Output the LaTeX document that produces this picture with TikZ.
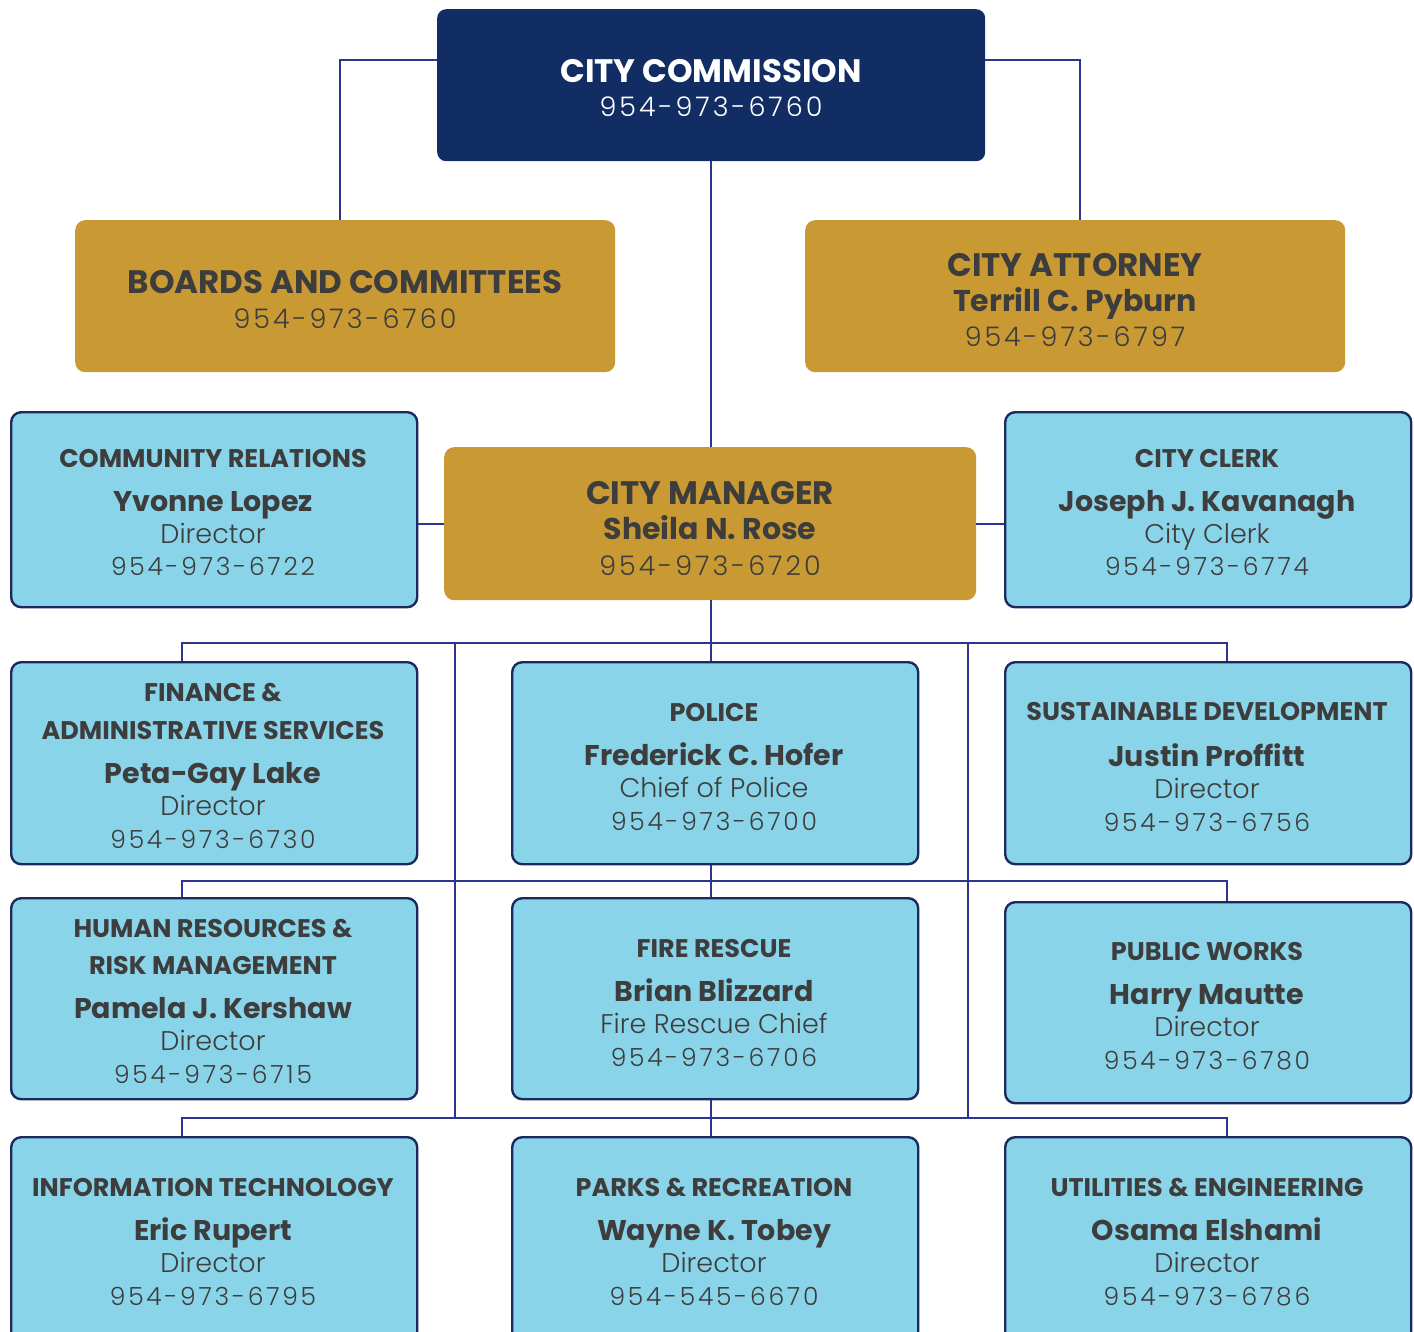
\documentclass[tikz,border=0pt]{standalone}
\usepackage{fontspec}
\setmainfont{Poppins}
\IfFontExistsTF{Poppins Light}{%
  \newfontfamily\phonefont{Poppins Light}[LetterSpace=11]%
  \newfontfamily\rolefont{Poppins Light}%
}{%
  \newfontfamily\phonefont{Poppins}[LetterSpace=11]%
  \newfontfamily\rolefont{Poppins}%
}
\usetikzlibrary{calc}
\definecolor{navy}{HTML}{122D63}
\definecolor{gold}{HTML}{C99A33}
\definecolor{lblue}{HTML}{8AD4E9}
\definecolor{bord}{HTML}{1B2A5E}
\definecolor{conn}{HTML}{2E3590}
\definecolor{tgray}{HTML}{3D3D3D}
\tikzset{
  bluebox/.style={draw=bord, line width=2.4pt, fill=lblue, rounded corners=10pt, anchor=north west, inner sep=0pt},
  goldbox/.style={fill=gold, rounded corners=10pt, anchor=north west, inner sep=0pt},
  navybox/.style={fill=navy, rounded corners=9pt, anchor=north west, inner sep=0pt},
  line/.style={draw=conn, line width=2.2pt},
  ttl/.style={anchor=base, inner sep=0pt, text=tgray, font=\bfseries\fontsize{25.5}{27}\selectfont},
  nm/.style={anchor=base, inner sep=0pt, text=tgray, font=\bfseries\fontsize{28.5}{30}\selectfont},
  role/.style={anchor=base, inner sep=0pt, text=tgray, font=\rolefont\fontsize{27}{29}\selectfont},
  ph/.style={anchor=base, inner sep=0pt, text=tgray, font=\phonefont\fontsize{25}{27}\selectfont},
  bigttl/.style={anchor=base, inner sep=0pt, text=tgray, font=\bfseries\fontsize{32.5}{34}\selectfont},
  bignm/.style={anchor=base, inner sep=0pt, text=tgray, font=\bfseries\fontsize{30}{32}\selectfont},
  bigph/.style={anchor=base, inner sep=0pt, text=tgray, font=\phonefont\fontsize{27}{29}\selectfont},
}
\begin{document}
\begin{tikzpicture}[x=1pt,y=-1pt]
\useasboundingbox (0,0) rectangle (1414,1332);
\clip (0,0) rectangle (1414,1332);
\coordinate (bL1) at (182,643); \coordinate (bR1) at (1227,643);
\coordinate (bL2) at (182,881); \coordinate (bR2) at (1227,881);
\coordinate (bL3) at (182,1118); \coordinate (bR3) at (1227,1118);
\coordinate (vA1) at (455,643); \coordinate (vA2) at (455,1118);
\coordinate (vB1) at (968,643); \coordinate (vB2) at (968,1118);
% boxes
\node[navybox, minimum width=548, minimum height=152] (comm) at (437,9) {};
\node[goldbox, minimum width=540, minimum height=152] (boards) at (75,220) {};
\node[goldbox, minimum width=540, minimum height=152] (att) at (805,220) {};
\node[goldbox, minimum width=532, minimum height=153] (mgr) at (444,447) {};
\node[bluebox, minimum width=406, minimum height=195] (cr) at (10,411) {};
\node[bluebox, minimum width=406, minimum height=195] (clerk) at (1004,411) {};
\node[bluebox, minimum width=406, minimum height=202] (fin) at (10,661) {};
\node[bluebox, minimum width=406, minimum height=202] (pol) at (511,661) {};
\node[bluebox, minimum width=406, minimum height=202] (sus) at (1004,661) {};
\node[bluebox, minimum width=406, minimum height=201] (hr) at (10,897) {};
\node[bluebox, minimum width=406, minimum height=201] (fire) at (511,897) {};
\node[bluebox, minimum width=406, minimum height=201] (pw) at (1004,901) {};
\node[bluebox, minimum width=406, minimum height=220] (it) at (10,1136) {};
\node[bluebox, minimum width=406, minimum height=220] (parks) at (511,1136) {};
\node[bluebox, minimum width=406, minimum height=220] (util) at (1004,1136) {};
% connectors
\draw[line] ([yshift=25pt]comm.west) -| ([xshift=-5pt]boards.north);
\draw[line] ([yshift=25pt]comm.east) -| ([xshift=5pt]att.north);
\draw[line] (comm.south) -- (comm.south |- mgr.north);
\draw[line] (mgr.west) -- (mgr.west -| cr.east);
\draw[line] (mgr.east) -- (mgr.east -| clerk.west);
\draw[line] (comm.south |- mgr.south) -- (comm.south |- pol.north);
\draw[line] (bL1 |- fin.north) -- (bL1) -- (bR1) -- (bR1 |- sus.north);
\draw[line] (bL2 |- hr.north) -- (bL2) -- (bR2) -- (bR2 |- pw.north);
\draw[line] (bL3 |- it.north) -- (bL3) -- (bR3) -- (bR3 |- util.north);
\draw[line] (comm.south |- pol.south) -- (comm.south |- fire.north);
\draw[line] (comm.south |- fire.south) -- (comm.south |- parks.north);
\draw[line] (vA1) -- (vA2);
\draw[line] (vB1) -- (vB2);
% texts
\node[bigttl, text=white] (commt) at (711,83) {CITY COMMISSION};
\node[bigph, text=white] (commp) at (711,117) {954-973-6760};
\node[bigttl] (boardst) at (345,294) {BOARDS AND COMMITTEES};
\node[bigph] (boardsp) at (345,329) {954-973-6760};
\node[bigttl] (attt) at (1075,277) {CITY ATTORNEY};
\node[bignm] (attn) at (1075,312) {Terrill C. Pyburn};
\node[bigph] (attp) at (1075,347) {954-973-6797};
\node[bigttl] (mgrt) at (710,504) {CITY MANAGER};
\node[bignm] (mgrn) at (710,539) {Sheila N. Rose};
\node[bigph] (mgrp) at (710,575) {954-973-6720};
% community relations
\node[ttl] (crt) at (213,467) {COMMUNITY RELATIONS};
\node[nm] (crn) at (213,511) {Yvonne Lopez};
\node[role] (crr) at (213,543) {Director};
\node[ph] (crp) at (213,575) {954-973-6722};
% city clerk
\node[ttl] (clt) at (1207,467) {CITY CLERK};
\node[nm] (cln) at (1207,511) {Joseph J. Kavanagh};
\node[role] (clr) at (1207,543) {City Clerk};
\node[ph] (clp) at (1207,575) {954-973-6774};
% finance
\node[ttl] (fint1) at (213,701) {FINANCE \&};
\node[ttl] (fint2) at (213,739) {ADMINISTRATIVE SERVICES};
\node[nm] (finn) at (213,783) {Peta-Gay Lake};
\node[role] (finr) at (213,815) {Director};
\node[ph] (finp) at (213,848) {954-973-6730};
% police
\node[ttl] (polt) at (714,721) {POLICE};
\node[nm] (poln) at (714,765) {Frederick C. Hofer};
\node[role] (polr) at (714,797) {Chief of Police};
\node[ph] (polp) at (714,830) {954-973-6700};
% sustainable
\node[ttl] (sust) at (1207,720) {SUSTAINABLE DEVELOPMENT};
\node[nm] (susn) at (1207,766) {Justin Proffitt};
\node[role] (susr) at (1207,798) {Director};
\node[ph] (susp) at (1207,831) {954-973-6756};
% HR
\node[ttl] (hrt1) at (213,937) {HUMAN RESOURCES \&};
\node[ttl] (hrt2) at (213,974) {RISK MANAGEMENT};
\node[nm] (hrn) at (213,1018) {Pamela J. Kershaw};
\node[role] (hrr) at (213,1050) {Director};
\node[ph] (hrp) at (213,1083) {954-973-6715};
% fire
\node[ttl] (firet) at (714,957) {FIRE RESCUE};
\node[nm] (firen) at (714,1001) {Brian Blizzard};
\node[role] (firer) at (714,1033) {Fire Rescue Chief};
\node[ph] (firep) at (714,1066) {954-973-6706};
% public works
\node[ttl] (pwt) at (1207,960) {PUBLIC WORKS};
\node[nm] (pwn) at (1207,1004) {Harry Mautte};
\node[role] (pwr) at (1207,1036) {Director};
\node[ph] (pwp) at (1207,1069) {954-973-6780};
% IT
\node[ttl] (itt) at (213,1196) {INFORMATION TECHNOLOGY};
\node[nm] (itn) at (213,1240) {Eric Rupert};
\node[role] (itr) at (213,1272) {Director};
\node[ph] (itp) at (213,1305) {954-973-6795};
% parks
\node[ttl] (pkt) at (714,1196) {PARKS \& RECREATION};
\node[nm] (pkn) at (714,1240) {Wayne K. Tobey};
\node[role] (pkr) at (714,1272) {Director};
\node[ph] (pkp) at (714,1305) {954-545-6670};
% utilities
\node[ttl] (utt) at (1207,1196) {UTILITIES \& ENGINEERING};
\node[nm] (utn) at (1207,1240) {Osama Elshami};
\node[role] (utr) at (1207,1272) {Director};
\node[ph] (utp) at (1207,1305) {954-973-6786};
\end{tikzpicture}
\end{document}
